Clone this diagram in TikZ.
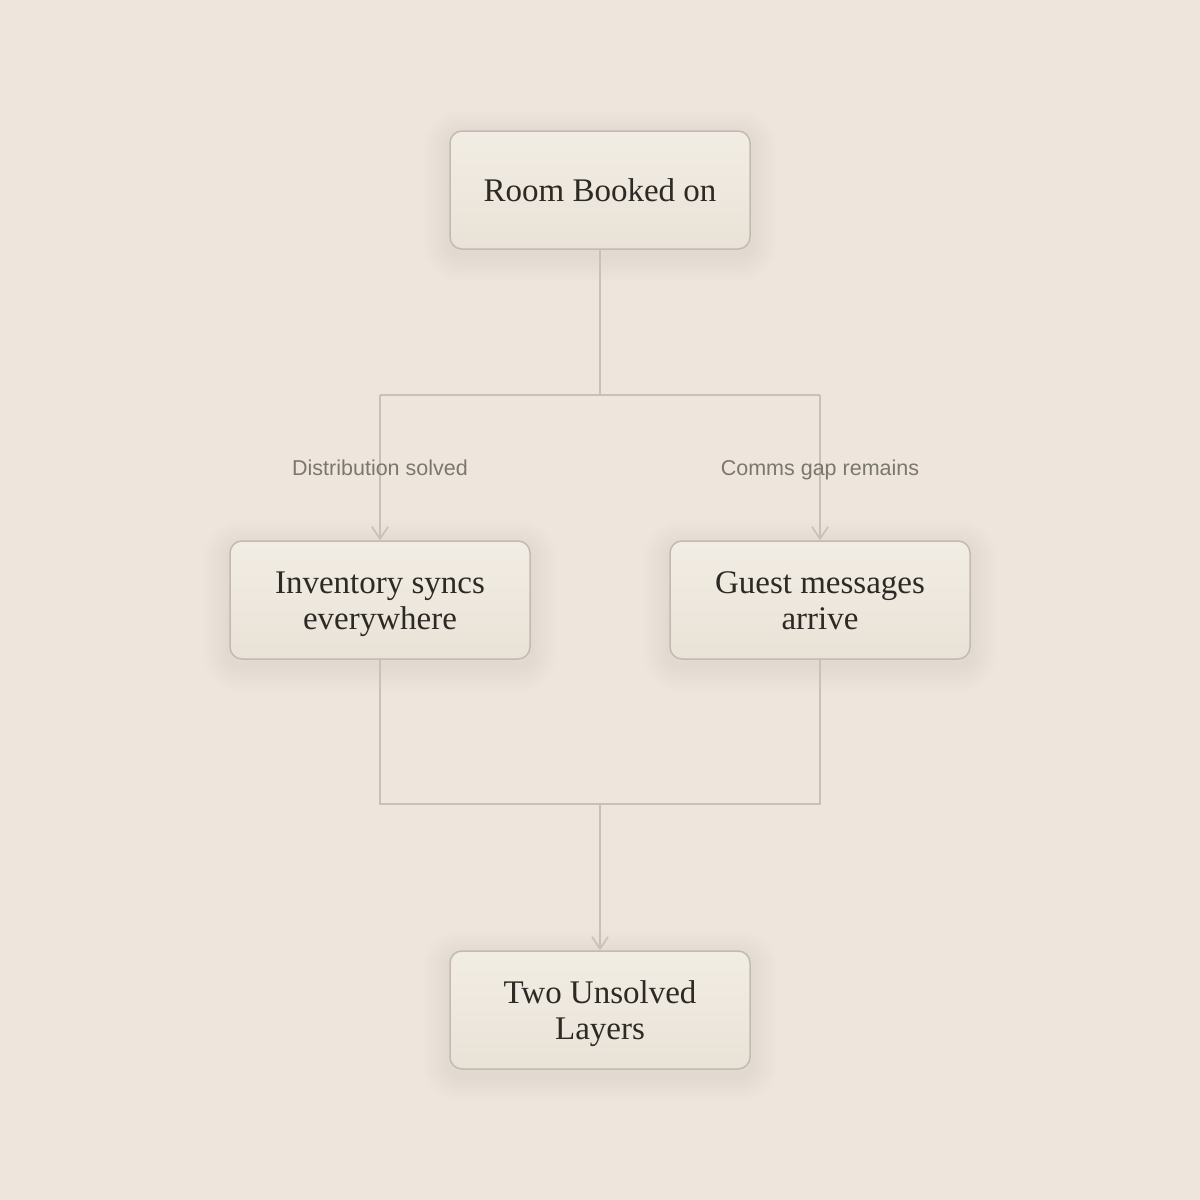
\documentclass[tikz,border=0pt]{standalone}
\usepackage{fontspec}
\setmainfont{Liberation Serif}
\newfontfamily\labelfont{Liberation Sans}
\usetikzlibrary{arrows.meta,backgrounds}
\definecolor{bg}{HTML}{EEE6DC}
\definecolor{boxtop}{HTML}{F2EDE4}
\definecolor{boxbot}{HTML}{E9E2D7}
\definecolor{boxline}{HTML}{C3BBB1}
\definecolor{conn}{HTML}{C9C1B7}
\definecolor{txt}{HTML}{2D2924}
\definecolor{lbl}{HTML}{7A776F}
\tikzset{
  flowbox/.style={draw=boxline, line width=1.5pt, rounded corners=12pt,
    minimum width=300pt, minimum height=118pt, inner sep=0pt,
    top color=boxtop, bottom color=boxbot},
  boxtext/.style={text=txt, align=center, font=\fontsize{33}{36}\selectfont, yshift=-4pt},
  connline/.style={draw=conn, line width=1.6pt},
  arrowline/.style={connline, -{Straight Barb[length=12pt, width=16pt, line width=1.6pt]}},
  edgelabel/.style={font=\labelfont\fontsize{21.5}{24}\selectfont, text=lbl, inner sep=0pt, anchor=base}
}
\begin{document}
\begin{tikzpicture}[x=1pt, y=-1pt]
\useasboundingbox (0,0) rectangle (1200,1200);

\node[flowbox, label={[boxtext]center:\strut Room Booked on}] (room) at (600,190) {};
\node[flowbox, label={[boxtext]center:\strut Inventory syncs\\\strut everywhere}] (inv) at (380,600) {};
\node[flowbox, label={[boxtext]center:\strut Guest messages\\\strut arrive}] (guest) at (820,600) {};
\node[flowbox, label={[boxtext]center:\strut Two Unsolved\\\strut Layers}] (two) at (600,1010) {};

\begin{scope}[on background layer]
  \fill[bg] (0,0) rectangle (1200,1200);
  \foreach \n in {room,inv,guest,two}{
    \foreach \i in {1,...,12}{
      \fill[black, opacity=0.0045, rounded corners={12pt+2.2pt*\i}]
        ([xshift={-2.2pt*\i}, yshift={-6pt+2.2pt*\i}]\n.north west)
        rectangle ([xshift={2.2pt*\i}, yshift={-6pt-2.2pt*\i}]\n.south east);
    }
  }
\end{scope}

\coordinate (split) at (600,395);
\coordinate (splitL) at (380,395);
\coordinate (splitR) at (820,395);
\coordinate (joinL) at (380,804);
\coordinate (joinR) at (820,804);
\coordinate (join) at (600,804);

\draw[connline] (room.south) -- (split);
\draw[connline] (splitL) -- (splitR);
\draw[arrowline] (splitL) -- (inv.north);
\draw[arrowline] (splitR) -- (guest.north);
\draw[connline] (inv.south) -- (joinL) -- (joinR) -- (guest.south);
\draw[arrowline] (join) -- (two.north);

\node[edgelabel] (l1) at (380,475) {Distribution solved};
\node[edgelabel] (l2) at (820,475) {Comms gap remains};
\end{tikzpicture}
\end{document}
